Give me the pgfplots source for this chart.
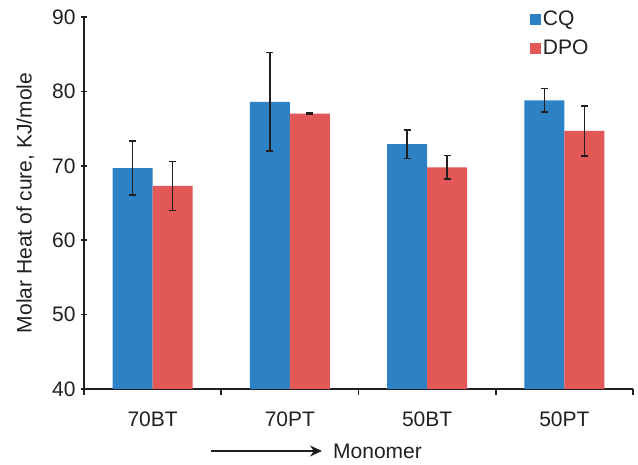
\documentclass[border=0pt]{standalone}
\usepackage{fontspec}
\setmainfont{Liberation Sans}
\usepackage{pgfplots}
\pgfplotsset{compat=1.18}
\usetikzlibrary{arrows.meta}
\definecolor{cqblue}{RGB}{44,130,197}
\definecolor{dpored}{RGB}{225,88,87}
\definecolor{ink}{RGB}{35,31,32}
\begin{document}
\begin{tikzpicture}[font=\fontsize{21}{24}\selectfont, color=ink]
\path[use as bounding box] (-84pt,-76pt) rectangle (554pt,389pt);
\begin{axis}[
  scale only axis,
  width=549pt, height=372pt,
  at={(0pt,0pt)}, anchor=south west,
  ymin=40, ymax=90,
  ytick={40,50,...,90},
  xmin=-0.5, xmax=3.5,
  xtick={0,1,2,3},
  xticklabels={70BT,70PT,50BT,50PT},
  minor xtick={-0.5,0.5,1.5,2.5,3.5},
  major x tick style={draw=none},
  minor tick length=6pt,
  major tick length=6pt,
  tick align=outside,
  tick style={ink, line width=1.6pt},
  axis lines=left,
  axis line style={-, ink, line width=1.6pt},
  /pgf/number format/assume math mode=true,
  ticklabel style={font=\fontsize{21}{24}\selectfont, text=ink},
  yticklabel style={xshift=-2pt},
  xticklabel style={yshift=-13pt},
  ybar=0pt,
  bar width=40pt,
  ylabel={Molar Heat of cure, KJ/mole},
  ylabel style={at={(axis description cs:-0.107,0.5)}, anchor=center, font=\fontsize{21}{24}\selectfont, text=ink},
  legend style={draw=none, fill=none, at={(axis description cs:0.812,1.022)}, anchor=north west, inner sep=0pt, row sep=9pt, font=\fontsize{21}{24}\selectfont, text=ink},
  legend cell align=left,
  legend image code/.code={\fill[#1] (0pt,-5.5pt) rectangle (11pt,5.5pt);},
  error bars/error bar style={ink, line width=1.5pt},
  error bars/error mark options={rotate=90, mark size=3.5pt, line width=1.5pt, ink},
  clip=false,
]
\addplot[fill=cqblue, draw=none,
  error bars/.cd, y dir=both, y explicit]
  coordinates {(0,69.7) +- (0,3.6) (1,78.6) +- (0,6.6) (2,72.9) +- (0,1.9) (3,78.8) +- (0,1.6)};
\addplot[fill=dpored, draw=none,
  error bars/.cd, y dir=both, y explicit]
  coordinates {(0,67.3) +- (0,3.3) (1,77.0) +- (0,0.1) (2,69.8) +- (0,1.6) (3,74.7) +- (0,3.35)};
\legend{CQ,DPO}
\end{axis}
\draw[-{Stealth[length=12pt,width=11pt]}, line width=2pt, ink] (127pt,-62pt) -- (238pt,-62pt);
\node[anchor=west, inner sep=0pt] at (249pt,-62pt) {Monomer};
\end{tikzpicture}
\end{document}
